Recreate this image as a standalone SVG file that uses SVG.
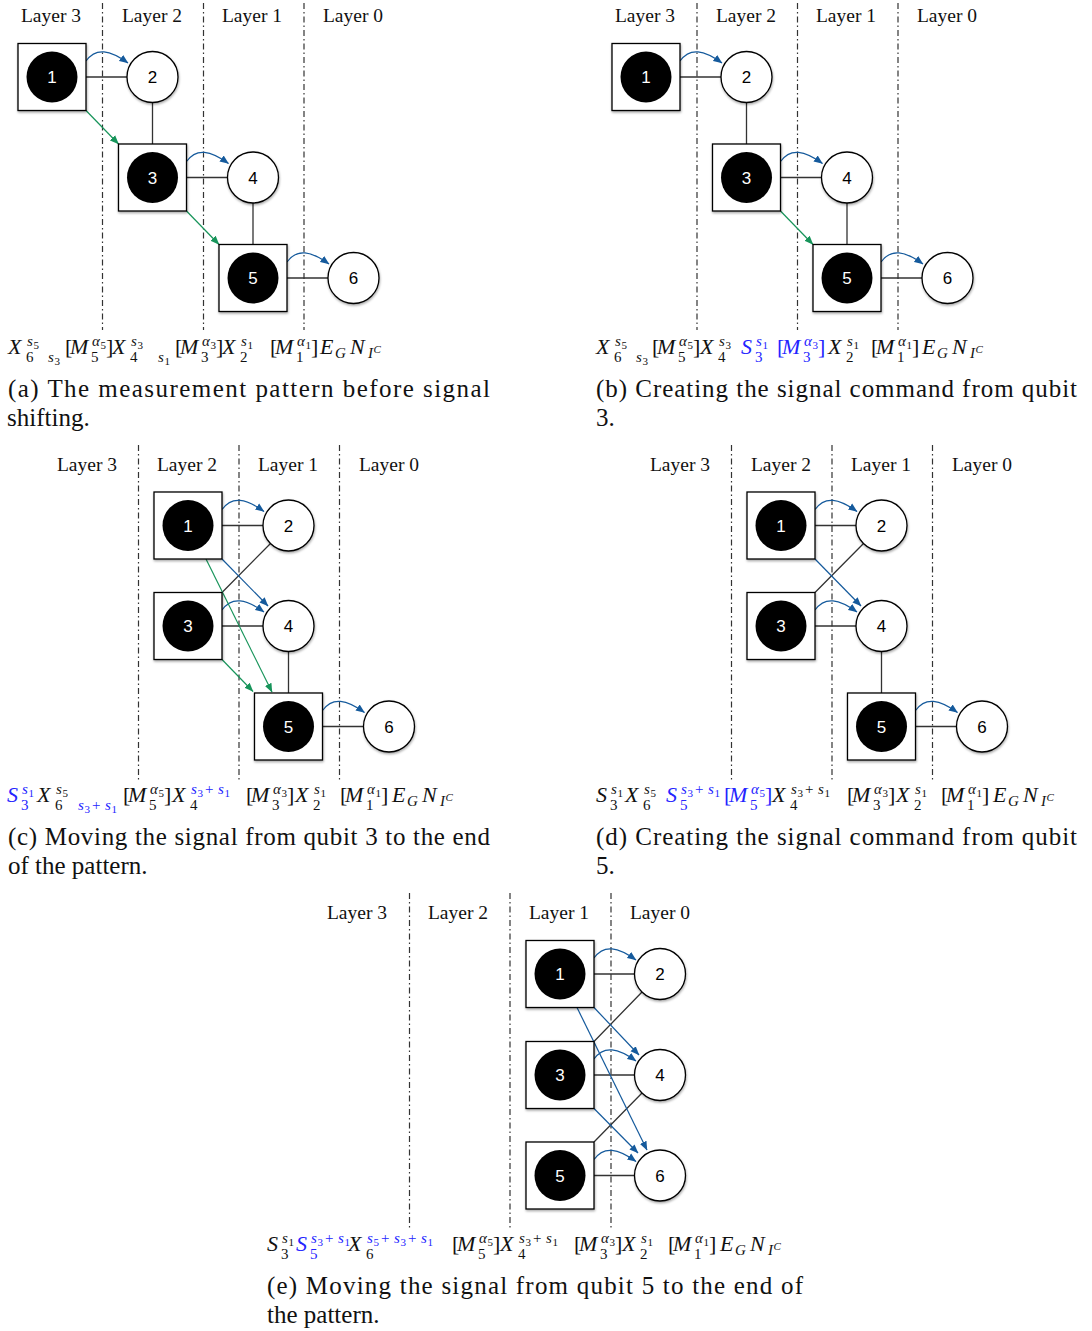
<svg xmlns="http://www.w3.org/2000/svg" xmlns:xlink="http://www.w3.org/1999/xlink" width="1092" height="1331" viewBox="0 0 1092 1331">
<style>
.lay{font-family:"Liberation Serif",serif;font-size:19.5px;fill:#111;text-anchor:middle}
.cap{font-family:"Liberation Serif",serif;font-size:25px;fill:#111}
.f{font-family:"Liberation Serif",serif;fill:#111}
.m{font-style:italic;font-size:22px}
.r{font-size:22px}
.ms{font-style:italic;font-size:15px}
.rs{font-size:15px}
.rt{font-size:11px}
.mt{font-style:italic;font-size:11px}
.b{fill:#2424ff}
.nw{font-family:"Liberation Sans",Arial,sans-serif;font-size:17px;fill:#fff;text-anchor:middle}
.nb{font-family:"Liberation Sans",Arial,sans-serif;font-size:17px;fill:#000;text-anchor:middle}
.dd{stroke:#333;stroke-width:1.2;stroke-dasharray:6 3 1.5 3;fill:none}
.e{stroke:#333;stroke-width:1.3;fill:none}
.bl{stroke:#155a9c;stroke-width:1.2;fill:none;marker-end:url(#ab)}
.gr{stroke:#17945a;stroke-width:1.2;fill:none;marker-end:url(#ag)}
</style>
<defs>
<filter id="sh" x="-20%" y="-20%" width="150%" height="150%"><feDropShadow dx="0.5" dy="1.5" stdDeviation="1" flood-color="#000" flood-opacity="0.35"/></filter>
<marker id="ab" viewBox="0 0 10 10" refX="9.5" refY="5" markerWidth="9" markerHeight="9" markerUnits="userSpaceOnUse" orient="auto"><path d="M0,1 L10,5 L0,9 z" fill="#155a9c"/></marker>
<marker id="ag" viewBox="0 0 10 10" refX="9.5" refY="5" markerWidth="9" markerHeight="9" markerUnits="userSpaceOnUse" orient="auto"><path d="M0,1 L10,5 L0,9 z" fill="#17945a"/></marker>
<g id="sq"><rect x="-34" y="-33.5" width="68" height="67" fill="#fff" stroke="#000" stroke-width="1.3" filter="url(#sh)"/><circle r="25.5" fill="#000"/></g>
<g id="ci"><circle r="25.5" fill="#fff" stroke="#000" stroke-width="1.3" filter="url(#sh)"/></g>
</defs>
<rect width="1092" height="1331" fill="#fff"/>

<g id="separators">
<path class="dd" d="M102.5,3V330M203.5,3V330M304,3V330"/>
<path class="dd" d="M697,3V330M797.5,3V330M898,3V330"/>
<path class="dd" d="M138.5,445V781M239,445V781M339.5,445V781"/>
<path class="dd" d="M731.5,445V781M832,445V781M932.5,445V781"/>
<path class="dd" d="M409.5,893V1229M510,893V1229M611,893V1229"/>
</g>

<g id="layer-labels">
<text class="lay" x="51" y="22">Layer 3</text><text class="lay" x="152" y="22">Layer 2</text><text class="lay" x="252" y="22">Layer 1</text><text class="lay" x="353" y="22">Layer 0</text>
<text class="lay" x="645" y="22">Layer 3</text><text class="lay" x="746" y="22">Layer 2</text><text class="lay" x="846" y="22">Layer 1</text><text class="lay" x="947" y="22">Layer 0</text>
<text class="lay" x="87" y="471">Layer 3</text><text class="lay" x="187" y="471">Layer 2</text><text class="lay" x="288" y="471">Layer 1</text><text class="lay" x="389" y="471">Layer 0</text>
<text class="lay" x="680" y="471">Layer 3</text><text class="lay" x="781" y="471">Layer 2</text><text class="lay" x="881" y="471">Layer 1</text><text class="lay" x="982" y="471">Layer 0</text>
<text class="lay" x="357" y="919">Layer 3</text><text class="lay" x="458" y="919">Layer 2</text><text class="lay" x="559" y="919">Layer 1</text><text class="lay" x="660" y="919">Layer 0</text>
</g>

<g id="connectors">
<path class="e" d="M86,77H127M152.5,102.5V144M186.5,177.5H227.5M253,203V244.5M287,278H328"/>
<path class="bl" d="M86,61C96,47 110,50 128,63"/>
<path class="bl" d="M186.5,161.5C196.5,147.5 210.5,150.5 228.5,163.5"/>
<path class="bl" d="M287,262C297,248 311,251 329,264"/>
<path class="gr" d="M86,110.5L118.5,144"/>
<path class="gr" d="M186.5,211L219,244.5"/>
<path class="e" d="M680,77H721M746.5,102.5V144M780.5,177.5H821.5M847,203V244.5M881,278H922"/>
<path class="bl" d="M680,61C690,47 704,50 722,63"/>
<path class="bl" d="M780.5,161.5C790.5,147.5 804.5,150.5 822.5,163.5"/>
<path class="bl" d="M881,262C891,248 905,251 923,264"/>
<path class="gr" d="M780.5,211L813,244.5"/>
<path class="e" d="M222,525.5H263M222,592.5L270.5,543.5M222,626H263M288.5,651.5V693M322.5,726.5H363.5"/>
<path class="bl" d="M222,509.5C232,495.5 246,498.5 264,511.5"/>
<path class="bl" d="M222,610C232,596 246,599 264,612"/>
<path class="bl" d="M322.5,710.5C332.5,696.5 346.5,699.5 364.5,712.5"/>
<path class="bl" d="M222,559L268,606"/>
<path class="gr" d="M206,559L272,692"/>
<path class="gr" d="M222,659.5L253,691.5"/>
<path class="e" d="M815,525.5H856M815,592.5L863.5,543.5M815,626H856M881.5,651.5V693M915.5,726.5H956.5"/>
<path class="bl" d="M815,509.5C825,495.5 839,498.5 857,511.5"/>
<path class="bl" d="M815,610C825,596 839,599 857,612"/>
<path class="bl" d="M915.5,710.5C925.5,696.5 939.5,699.5 957.5,712.5"/>
<path class="bl" d="M815,559L861,606"/>
<path class="e" d="M594,974H634.5M594,1041.5L642,992M594,1075H634.5M594,1142L642,1093M594,1175.5H634.5"/>
<path class="bl" d="M594,958C604,944 618,947 636,960"/>
<path class="bl" d="M594,1059C604,1045 618,1048 636,1061"/>
<path class="bl" d="M594,1159.5C604,1145.5 618,1148.5 636,1161.5"/>
<path class="bl" d="M594,1007.5L639,1055"/>
<path class="bl" d="M577,1007.5L647,1150"/>
<path class="bl" d="M594,1108.5L638,1153"/>
</g>

<g id="a1"><use href="#sq" x="52" y="77"/><text class="nw" x="52" y="83">1</text></g>
<g id="a2"><use href="#ci" x="152.5" y="77"/><text class="nb" x="152.5" y="83">2</text></g>
<g id="a3"><use href="#sq" x="152.5" y="177.5"/><text class="nw" x="152.5" y="183.5">3</text></g>
<g id="a4"><use href="#ci" x="253" y="177.5"/><text class="nb" x="253" y="183.5">4</text></g>
<g id="a5"><use href="#sq" x="253" y="278"/><text class="nw" x="253" y="284">5</text></g>
<g id="a6"><use href="#ci" x="353.5" y="278"/><text class="nb" x="353.5" y="284">6</text></g>
<g id="b1"><use href="#sq" x="646" y="77"/><text class="nw" x="646" y="83">1</text></g>
<g id="b2"><use href="#ci" x="746.5" y="77"/><text class="nb" x="746.5" y="83">2</text></g>
<g id="b3"><use href="#sq" x="746.5" y="177.5"/><text class="nw" x="746.5" y="183.5">3</text></g>
<g id="b4"><use href="#ci" x="847" y="177.5"/><text class="nb" x="847" y="183.5">4</text></g>
<g id="b5"><use href="#sq" x="847" y="278"/><text class="nw" x="847" y="284">5</text></g>
<g id="b6"><use href="#ci" x="947.5" y="278"/><text class="nb" x="947.5" y="284">6</text></g>
<g id="c1"><use href="#sq" x="188" y="525.5"/><text class="nw" x="188" y="531.5">1</text></g>
<g id="c2"><use href="#ci" x="288.5" y="525.5"/><text class="nb" x="288.5" y="531.5">2</text></g>
<g id="c3"><use href="#sq" x="188" y="626"/><text class="nw" x="188" y="632">3</text></g>
<g id="c4"><use href="#ci" x="288.5" y="626"/><text class="nb" x="288.5" y="632">4</text></g>
<g id="c5"><use href="#sq" x="288.5" y="726.5"/><text class="nw" x="288.5" y="732.5">5</text></g>
<g id="c6"><use href="#ci" x="389" y="726.5"/><text class="nb" x="389" y="732.5">6</text></g>
<g id="d1"><use href="#sq" x="781" y="525.5"/><text class="nw" x="781" y="531.5">1</text></g>
<g id="d2"><use href="#ci" x="881.5" y="525.5"/><text class="nb" x="881.5" y="531.5">2</text></g>
<g id="d3"><use href="#sq" x="781" y="626"/><text class="nw" x="781" y="632">3</text></g>
<g id="d4"><use href="#ci" x="881.5" y="626"/><text class="nb" x="881.5" y="632">4</text></g>
<g id="d5"><use href="#sq" x="881.5" y="726.5"/><text class="nw" x="881.5" y="732.5">5</text></g>
<g id="d6"><use href="#ci" x="982" y="726.5"/><text class="nb" x="982" y="732.5">6</text></g>
<g id="e1"><use href="#sq" x="560" y="974"/><text class="nw" x="560" y="980">1</text></g>
<g id="e2"><use href="#ci" x="660" y="974"/><text class="nb" x="660" y="980">2</text></g>
<g id="e3"><use href="#sq" x="560" y="1075"/><text class="nw" x="560" y="1081">3</text></g>
<g id="e4"><use href="#ci" x="660" y="1075"/><text class="nb" x="660" y="1081">4</text></g>
<g id="e5"><use href="#sq" x="560" y="1175.5"/><text class="nw" x="560" y="1181.5">5</text></g>
<g id="e6"><use href="#ci" x="660" y="1175.5"/><text class="nb" x="660" y="1181.5">6</text></g>

<text class="f"><tspan class="m" x="8" y="354">X</tspan><tspan class="ms" x="27" y="346">s</tspan><tspan class="rt" x="33.5" y="348.5">5</tspan><tspan class="rs" x="26" y="362">6</tspan><tspan class="ms" x="48" y="362">s</tspan><tspan class="rt" x="54.5" y="364.5">3</tspan><tspan class="r" x="65" y="354">[</tspan><tspan class="m" x="70" y="354">M</tspan><tspan class="rs" x="91" y="362">5</tspan><tspan class="ms" x="92" y="346">α</tspan><tspan class="rt" x="100.5" y="348.5">5</tspan><tspan class="r" x="106" y="354">]</tspan><tspan class="m" x="112" y="354">X</tspan><tspan class="ms" x="131" y="346">s</tspan><tspan class="rt" x="137.5" y="348.5">3</tspan><tspan class="rs" x="130" y="362">4</tspan><tspan class="ms" x="158" y="362">s</tspan><tspan class="rt" x="164.5" y="364.5">1</tspan><tspan class="r" x="175" y="354">[</tspan><tspan class="m" x="180" y="354">M</tspan><tspan class="rs" x="201" y="362">3</tspan><tspan class="ms" x="202" y="346">α</tspan><tspan class="rt" x="210.5" y="348.5">3</tspan><tspan class="r" x="216" y="354">]</tspan><tspan class="m" x="222" y="354">X</tspan><tspan class="ms" x="241" y="346">s</tspan><tspan class="rt" x="247.5" y="348.5">1</tspan><tspan class="rs" x="240" y="362">2</tspan><tspan class="r" x="270" y="354">[</tspan><tspan class="m" x="275" y="354">M</tspan><tspan class="rs" x="296" y="362">1</tspan><tspan class="ms" x="297" y="346">α</tspan><tspan class="rt" x="305.5" y="348.5">1</tspan><tspan class="r" x="311" y="354">]</tspan><tspan class="m" x="320" y="354">E</tspan><tspan class="ms" x="335" y="358">G</tspan><tspan class="m" x="350" y="354">N</tspan><tspan class="ms" x="368" y="358">I</tspan><tspan class="mt" x="373.5" y="353">C</tspan></text>

<text class="f"><tspan class="m" x="596" y="354">X</tspan><tspan class="ms" x="615" y="346">s</tspan><tspan class="rt" x="621.5" y="348.5">5</tspan><tspan class="rs" x="614" y="362">6</tspan><tspan class="ms" x="636" y="362">s</tspan><tspan class="rt" x="642.5" y="364.5">3</tspan><tspan class="r" x="652" y="354">[</tspan><tspan class="m" x="657" y="354">M</tspan><tspan class="rs" x="678" y="362">5</tspan><tspan class="ms" x="679" y="346">α</tspan><tspan class="rt" x="687.5" y="348.5">5</tspan><tspan class="r" x="693" y="354">]</tspan><tspan class="m" x="700" y="354">X</tspan><tspan class="ms" x="719" y="346">s</tspan><tspan class="rt" x="725.5" y="348.5">3</tspan><tspan class="rs" x="718" y="362">4</tspan><tspan class="m b" x="741" y="354">S</tspan><tspan class="ms b" x="756" y="346">s</tspan><tspan class="rt b" x="762.5" y="348.5">1</tspan><tspan class="rs b" x="755" y="362">3</tspan><tspan class="r b" x="777" y="354">[</tspan><tspan class="m b" x="782" y="354">M</tspan><tspan class="rs b" x="803" y="362">3</tspan><tspan class="ms b" x="804" y="346">α</tspan><tspan class="rt b" x="812.5" y="348.5">3</tspan><tspan class="r b" x="818" y="354">]</tspan><tspan class="m" x="828" y="354">X</tspan><tspan class="ms" x="847" y="346">s</tspan><tspan class="rt" x="853.5" y="348.5">1</tspan><tspan class="rs" x="846" y="362">2</tspan><tspan class="r" x="871" y="354">[</tspan><tspan class="m" x="876" y="354">M</tspan><tspan class="rs" x="897" y="362">1</tspan><tspan class="ms" x="898" y="346">α</tspan><tspan class="rt" x="906.5" y="348.5">1</tspan><tspan class="r" x="912" y="354">]</tspan><tspan class="m" x="922" y="354">E</tspan><tspan class="ms" x="937" y="358">G</tspan><tspan class="m" x="952" y="354">N</tspan><tspan class="ms" x="970" y="358">I</tspan><tspan class="mt" x="975.5" y="353">C</tspan></text>

<text class="f"><tspan class="m b" x="7" y="802">S</tspan><tspan class="ms b" x="22" y="794">s</tspan><tspan class="rt b" x="28.5" y="796.5">1</tspan><tspan class="rs b" x="21" y="810">3</tspan><tspan class="m" x="37" y="802">X</tspan><tspan class="ms" x="56" y="794">s</tspan><tspan class="rt" x="62.5" y="796.5">5</tspan><tspan class="rs" x="55" y="810">6</tspan><tspan class="ms b" x="78" y="810">s</tspan><tspan class="rt b" x="84.5" y="812.5">3</tspan><tspan class="rs b" x="92" y="810">+</tspan><tspan class="ms b" x="105" y="810">s</tspan><tspan class="rt b" x="111.5" y="812.5">1</tspan><tspan class="r" x="123" y="802">[</tspan><tspan class="m" x="128" y="802">M</tspan><tspan class="rs" x="149" y="810">5</tspan><tspan class="ms" x="150" y="794">α</tspan><tspan class="rt" x="158.5" y="796.5">5</tspan><tspan class="r" x="164" y="802">]</tspan><tspan class="m" x="172" y="802">X</tspan><tspan class="ms b" x="191" y="794">s</tspan><tspan class="rt b" x="197.5" y="796.5">3</tspan><tspan class="rs b" x="205" y="794">+</tspan><tspan class="ms b" x="218" y="794">s</tspan><tspan class="rt b" x="224.5" y="796.5">1</tspan><tspan class="rs" x="190" y="810">4</tspan><tspan class="r" x="246" y="802">[</tspan><tspan class="m" x="251" y="802">M</tspan><tspan class="rs" x="272" y="810">3</tspan><tspan class="ms" x="273" y="794">α</tspan><tspan class="rt" x="281.5" y="796.5">3</tspan><tspan class="r" x="287" y="802">]</tspan><tspan class="m" x="295" y="802">X</tspan><tspan class="ms" x="314" y="794">s</tspan><tspan class="rt" x="320.5" y="796.5">1</tspan><tspan class="rs" x="313" y="810">2</tspan><tspan class="r" x="340" y="802">[</tspan><tspan class="m" x="345" y="802">M</tspan><tspan class="rs" x="366" y="810">1</tspan><tspan class="ms" x="367" y="794">α</tspan><tspan class="rt" x="375.5" y="796.5">1</tspan><tspan class="r" x="381" y="802">]</tspan><tspan class="m" x="392" y="802">E</tspan><tspan class="ms" x="407" y="806">G</tspan><tspan class="m" x="422" y="802">N</tspan><tspan class="ms" x="440" y="806">I</tspan><tspan class="mt" x="445.5" y="801">C</tspan></text>

<text class="f"><tspan class="m" x="596" y="802">S</tspan><tspan class="ms" x="611" y="794">s</tspan><tspan class="rt" x="617.5" y="796.5">1</tspan><tspan class="rs" x="610" y="810">3</tspan><tspan class="m" x="625" y="802">X</tspan><tspan class="ms" x="644" y="794">s</tspan><tspan class="rt" x="650.5" y="796.5">5</tspan><tspan class="rs" x="643" y="810">6</tspan><tspan class="m b" x="666" y="802">S</tspan><tspan class="rs b" x="680" y="810">5</tspan><tspan class="ms b" x="681" y="794">s</tspan><tspan class="rt b" x="687.5" y="796.5">3</tspan><tspan class="rs b" x="695" y="794">+</tspan><tspan class="ms b" x="708" y="794">s</tspan><tspan class="rt b" x="714.5" y="796.5">1</tspan><tspan class="r b" x="724" y="802">[</tspan><tspan class="m b" x="729" y="802">M</tspan><tspan class="rs b" x="750" y="810">5</tspan><tspan class="ms b" x="751" y="794">α</tspan><tspan class="rt b" x="759.5" y="796.5">5</tspan><tspan class="r b" x="765" y="802">]</tspan><tspan class="m" x="772" y="802">X</tspan><tspan class="ms" x="791" y="794">s</tspan><tspan class="rt" x="797.5" y="796.5">3</tspan><tspan class="rs" x="805" y="794">+</tspan><tspan class="ms" x="818" y="794">s</tspan><tspan class="rt" x="824.5" y="796.5">1</tspan><tspan class="rs" x="790" y="810">4</tspan><tspan class="r" x="847" y="802">[</tspan><tspan class="m" x="852" y="802">M</tspan><tspan class="rs" x="873" y="810">3</tspan><tspan class="ms" x="874" y="794">α</tspan><tspan class="rt" x="882.5" y="796.5">3</tspan><tspan class="r" x="888" y="802">]</tspan><tspan class="m" x="896" y="802">X</tspan><tspan class="ms" x="915" y="794">s</tspan><tspan class="rt" x="921.5" y="796.5">1</tspan><tspan class="rs" x="914" y="810">2</tspan><tspan class="r" x="941" y="802">[</tspan><tspan class="m" x="946" y="802">M</tspan><tspan class="rs" x="967" y="810">1</tspan><tspan class="ms" x="968" y="794">α</tspan><tspan class="rt" x="976.5" y="796.5">1</tspan><tspan class="r" x="982" y="802">]</tspan><tspan class="m" x="993" y="802">E</tspan><tspan class="ms" x="1008" y="806">G</tspan><tspan class="m" x="1023" y="802">N</tspan><tspan class="ms" x="1041" y="806">I</tspan><tspan class="mt" x="1046.5" y="801">C</tspan></text>

<text class="f"><tspan class="m" x="267" y="1251">S</tspan><tspan class="ms" x="282" y="1243">s</tspan><tspan class="rt" x="288.5" y="1245.5">1</tspan><tspan class="rs" x="281" y="1259">3</tspan><tspan class="m b" x="296" y="1251">S</tspan><tspan class="rs b" x="310" y="1259">5</tspan><tspan class="ms b" x="311" y="1243">s</tspan><tspan class="rt b" x="317.5" y="1245.5">3</tspan><tspan class="rs b" x="325" y="1243">+</tspan><tspan class="ms b" x="338" y="1243">s</tspan><tspan class="rt b" x="344.5" y="1245.5">1</tspan><tspan class="m" x="348" y="1251">X</tspan><tspan class="rs" x="366" y="1259">6</tspan><tspan class="ms b" x="367" y="1243">s</tspan><tspan class="rt b" x="373.5" y="1245.5">5</tspan><tspan class="rs b" x="381" y="1243">+</tspan><tspan class="ms b" x="394" y="1243">s</tspan><tspan class="rt b" x="400.5" y="1245.5">3</tspan><tspan class="rs b" x="408" y="1243">+</tspan><tspan class="ms b" x="421" y="1243">s</tspan><tspan class="rt b" x="427.5" y="1245.5">1</tspan><tspan class="r" x="452" y="1251">[</tspan><tspan class="m" x="457" y="1251">M</tspan><tspan class="rs" x="478" y="1259">5</tspan><tspan class="ms" x="479" y="1243">α</tspan><tspan class="rt" x="487.5" y="1245.5">5</tspan><tspan class="r" x="493" y="1251">]</tspan><tspan class="m" x="500" y="1251">X</tspan><tspan class="ms" x="519" y="1243">s</tspan><tspan class="rt" x="525.5" y="1245.5">3</tspan><tspan class="rs" x="533" y="1243">+</tspan><tspan class="ms" x="546" y="1243">s</tspan><tspan class="rt" x="552.5" y="1245.5">1</tspan><tspan class="rs" x="518" y="1259">4</tspan><tspan class="r" x="574" y="1251">[</tspan><tspan class="m" x="579" y="1251">M</tspan><tspan class="rs" x="600" y="1259">3</tspan><tspan class="ms" x="601" y="1243">α</tspan><tspan class="rt" x="609.5" y="1245.5">3</tspan><tspan class="r" x="615" y="1251">]</tspan><tspan class="m" x="622" y="1251">X</tspan><tspan class="ms" x="641" y="1243">s</tspan><tspan class="rt" x="647.5" y="1245.5">1</tspan><tspan class="rs" x="640" y="1259">2</tspan><tspan class="r" x="668" y="1251">[</tspan><tspan class="m" x="673" y="1251">M</tspan><tspan class="rs" x="694" y="1259">1</tspan><tspan class="ms" x="695" y="1243">α</tspan><tspan class="rt" x="703.5" y="1245.5">1</tspan><tspan class="r" x="709" y="1251">]</tspan><tspan class="m" x="720" y="1251">E</tspan><tspan class="ms" x="735" y="1255">G</tspan><tspan class="m" x="750" y="1251">N</tspan><tspan class="ms" x="768" y="1255">I</tspan><tspan class="mt" x="773.5" y="1250">C</tspan></text>

<g id="captions">
<text class="cap" x="8" y="397" textLength="482" lengthAdjust="spacing">(a) The measurement pattern before signal</text>
<text class="cap" x="7" y="426">shifting.</text>
<text class="cap" x="596" y="397" textLength="481" lengthAdjust="spacing">(b) Creating the signal command from qubit</text>
<text class="cap" x="596" y="426">3.</text>
<text class="cap" x="8" y="845" textLength="482" lengthAdjust="spacing">(c) Moving the signal from qubit 3 to the end</text>
<text class="cap" x="8" y="874">of the pattern.</text>
<text class="cap" x="596" y="845" textLength="481" lengthAdjust="spacing">(d) Creating the signal command from qubit</text>
<text class="cap" x="596" y="874">5.</text>
<text class="cap" x="267" y="1294" textLength="536" lengthAdjust="spacing">(e) Moving the signal from qubit 5 to the end of</text>
<text class="cap" x="267" y="1323">the pattern.</text>
</g>
</svg>
